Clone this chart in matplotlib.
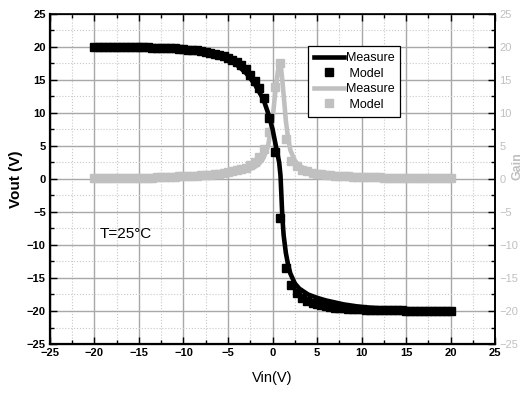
import matplotlib.pyplot as plt
from matplotlib.ticker import MultipleLocator

plt.rcParams['font.family'] = ['Liberation Sans', 'DejaVu Sans']

# Messkurven (Linien)
x_vout = [-20, -15, -12, -10, -8, -6, -5, -4, -3, -2, -1.5, -1, -0.5, 0, 0.25, 0.5,
          0.75, 0.9, 1.0, 1.1, 1.25, 1.5, 1.75, 2.0, 2.5, 3.0, 4.0, 5.0, 6.0, 8.0,
          10, 12, 15, 20]
vout_meas = [20.0, 19.95, 19.8, 19.6, 19.3, 18.7, 18.1, 17.3, 16.1, 14.4, 13.2, 12.0,
             10.0, 7.6, 5.9, 4.2, 2.5, 0.5, -2.5, -5.6, -8.5, -11.2, -13.0, -14.3,
             -15.8, -16.6, -17.5, -18.0, -18.4, -19.0, -19.4, -19.6, -19.8, -20.0]

x_gain = [-20, -15, -10, -8, -6, -5, -4, -3, -2, -1.5, -1, -0.5, 0, 0.3, 0.6, 0.75,
          0.85, 0.95, 1.1, 1.3, 1.5, 1.75, 2.0, 2.5, 3, 4, 5, 6, 8, 10, 15, 20]
gain_meas = [0.1, 0.15, 0.3, 0.4, 0.6, 0.75, 0.95, 1.25, 1.8, 2.3, 3.2, 5.0, 9.0, 13.0,
             16.3, 17.3, 17.5, 17.0, 15.0, 12.0, 8.8, 6.2, 4.4, 2.8, 2.0, 1.3, 0.95,
             0.7, 0.45, 0.3, 0.2, 0.15]

# Modell (Punkte)
x_model = [-20, -19.5, -19, -18.5, -18, -17.5, -17, -16.5, -16, -15.5, -15, -14.5, -14,
           -13.5, -13, -12.5, -12, -11.5, -11, -10.5, -10, -9.5, -9, -8.5, -8, -7.5,
           -7, -6.5, -6, -5.5, -5, -4.5, -4, -3.5, -3, -2.5, -2, -1.5, -1,
           -0.4, 0.25, 0.85, 1.5, 2.05, 2.7, 3.3, 3.9,
           4.5, 5, 5.5, 6, 6.5, 7, 7.5, 8, 8.5, 9, 9.5, 10, 10.5, 11, 11.5, 12, 12.5,
           13, 13.5, 14, 14.5, 15, 15.5, 16, 16.5, 17, 17.5, 18, 18.5, 19, 19.5, 20]
vout_model = [20.0, 20.0, 20.0, 20.0, 20.0, 20.0, 20.0, 20.0, 20.0, 20.0, 20.0, 19.95,
              19.95, 19.9, 19.9, 19.85, 19.85, 19.8, 19.8, 19.75, 19.7, 19.6, 19.55,
              19.5, 19.4, 19.25, 19.1, 18.95, 18.8, 18.6, 18.4, 18.1, 17.7, 17.2, 16.6,
              15.8, 14.9, 13.8, 12.3,
              9.2, 4.1, -5.9, -13.5, -16.1, -17.3, -18.0, -18.5,
              -18.8, -19.0, -19.15, -19.3, -19.4, -19.5, -19.55, -19.6, -19.65, -19.7,
              -19.72, -19.75, -19.78, -19.8, -19.82, -19.85, -19.87, -19.9, -19.9,
              -19.9, -19.92, -19.95, -19.95, -20.0, -20.0, -20.0, -20.0, -20.0, -20.0,
              -20.0, -20.0, -20.0]
gain_model = [0.1, 0.1, 0.1, 0.1, 0.1, 0.12, 0.15, 0.15, 0.15, 0.18, 0.2, 0.2, 0.2,
              0.22, 0.25, 0.28, 0.3, 0.32, 0.35, 0.38, 0.4, 0.42, 0.45, 0.5, 0.55, 0.6,
              0.65, 0.72, 0.8, 0.9, 1.0, 1.15, 1.3, 1.5, 1.7, 2.1, 2.6, 3.4, 4.6,
              7.1, 13.9, 17.6, 6.0, 2.7, 1.9, 1.4, 1.15,
              0.95, 0.8, 0.7, 0.6, 0.55, 0.5, 0.45, 0.4, 0.38, 0.35, 0.32, 0.3, 0.28,
              0.25, 0.25, 0.25, 0.22, 0.2, 0.2, 0.2, 0.2, 0.2, 0.2, 0.18, 0.18, 0.15,
              0.15, 0.15, 0.15, 0.15, 0.15, 0.15]

ticks = [-25, -20, -15, -10, -5, 0, 5, 10, 15, 20, 25]
grau = '#c0c0c0'

fig = plt.figure(figsize=(5.25, 3.94), dpi=100)
ax = fig.add_axes([0.0952, 0.1269, 0.8477, 0.8376])

# Gain zuerst, damit Vout oben liegt
l3, = ax.plot(x_gain, gain_meas, color=grau, lw=3.3, zorder=3)
m3, = ax.plot(x_model, gain_model, 's', color=grau, ms=6, zorder=2)
l1, = ax.plot(x_vout, vout_meas, color='black', lw=3.3, zorder=5)
m1, = ax.plot(x_model, vout_model, 's', color='black', ms=6, zorder=4)

ax.set_xlim(-25, 25)
ax.set_ylim(-25, 25)
ax.set_xticks(ticks)
ax.set_yticks(ticks)
ax.xaxis.set_minor_locator(MultipleLocator(2.5))
ax.yaxis.set_minor_locator(MultipleLocator(2.5))
ax.grid(which='major', color='#a8a8a8', lw=1.0, ls='-')
ax.grid(which='minor', color='#c8c8c8', lw=0.8, ls=':')
ax.set_axisbelow(True)
ax.tick_params(which='both', direction='in', top=True, right=False, labelsize=8, pad=3)
ax.tick_params(which='major', length=5, width=1)
ax.tick_params(which='minor', length=3, width=1)
for lab in ax.get_xticklabels() + ax.get_yticklabels():
    lab.set_fontweight('bold')
for s in ax.spines.values():
    s.set_linewidth(1.2)
ax.spines['left'].set_linewidth(1.6)
ax.spines['bottom'].set_linewidth(1.6)

ax.set_xlabel('Vin(V)', fontsize=10.5, labelpad=9)
ax.set_ylabel('Vout (V)', fontsize=11, fontweight='bold', labelpad=3)

ax2 = ax.twinx()
ax2.set_ylim(-25, 25)
ax2.set_yticks(ticks)
ax2.yaxis.set_minor_locator(MultipleLocator(2.5))
ax2.tick_params(which='both', direction='in', labelsize=8, labelcolor=grau, pad=3)
ax2.tick_params(which='major', length=5, width=1)
ax2.tick_params(which='minor', length=3, width=1)
ax2.spines['right'].set_linewidth(1.2)
ax2.set_ylabel('Gain', color=grau, fontsize=9, fontweight='bold', rotation=90)
ax2.yaxis.set_label_coords(1.036, 0.54)

ax.text(-19.4, -8.3, 'T=25°C', fontsize=11, va='center', ha='left')

leg = ax.legend([l1, m1, l3, m3], ['Measure', ' Model', 'Measure', ' Model'],
                loc='upper left', bbox_to_anchor=(0.58, 0.903), borderaxespad=0,
                fontsize=9, handlelength=2.4, handletextpad=0.1, borderpad=0.5,
                labelspacing=0.28, numpoints=1, fancybox=False, framealpha=1,
                edgecolor='black')
leg.get_frame().set_linewidth(0.9)
leg.set_zorder(10)

fig.savefig('out.png', dpi=100)
